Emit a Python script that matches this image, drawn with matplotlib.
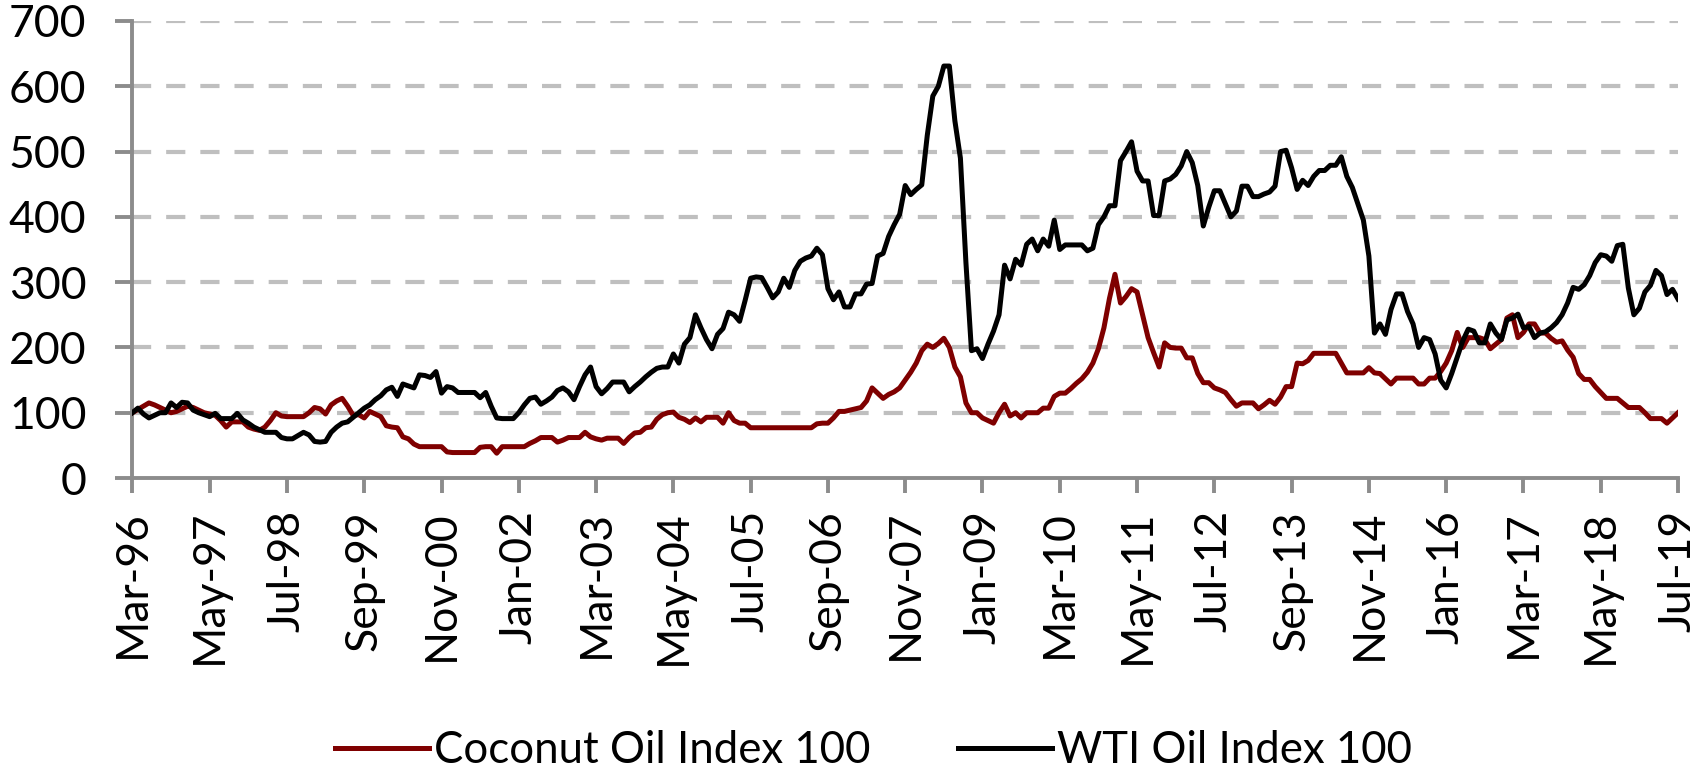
import matplotlib
matplotlib.use("Agg")
import matplotlib.pyplot as plt
from matplotlib.transforms import ScaledTranslation
import numpy as np
import pandas as pd

# monthly index values, Mar-96 = 100
months = pd.date_range("1996-03-01", "2019-07-01", freq="MS")

coconut = [
    100, 105, 110, 115, 112, 108, 104, 100, 102, 106,
    110, 108, 104, 100, 98, 96, 88, 78, 86, 86,
    86, 78, 75, 73, 78, 88, 100, 95, 94, 94,
    94, 94, 100, 108, 106, 98, 112, 118, 122, 110,
    96, 97,
    92, 102, 98, 94, 80, 78, 77, 63, 60, 52,
    48, 48, 48, 48, 48, 40, 39, 39, 39, 39,
    39, 47, 48, 48, 38, 48, 48, 48, 48, 48,
    53, 57, 62, 62, 62, 55, 58, 62, 62, 62,
    70, 63, 60,
    58, 61, 61, 61, 53, 62, 69, 70, 77, 78,
    90, 97, 100, 101, 93, 90, 85, 92, 86, 93,
    93, 93, 84, 100, 88, 84, 84, 77, 77, 77,
    77, 77, 77, 77, 77, 77, 77, 77, 77, 83,
    84, 84, 92, 102,
    102, 104, 106, 108, 118, 138, 130, 122, 128, 132,
    138, 150, 162, 176, 195, 205, 200, 206, 214, 200,
    170, 155, 115, 100, 100, 92, 88, 84, 100, 113,
    95, 100, 92, 100, 100, 100, 107, 107, 125, 130,
    130, 137, 145,
    152, 162, 176, 198, 230, 275, 312, 268, 278, 290,
    285, 250, 215, 192, 170, 207, 200, 199, 199, 184,
    184, 160, 146, 146, 138, 135, 131, 120, 110, 115,
    115, 115, 106, 112, 119, 113, 124, 140, 140, 176,
    175, 180, 191, 191, 191, 191, 191, 176, 161, 161,
    161, 161, 169, 161, 160, 152, 144, 153, 153, 153,
    153, 144, 144, 153, 153, 163, 176, 195, 223, 200,
    215, 215, 215, 212, 198, 205, 212, 245, 250, 215,
    223, 236, 236, 222,
    222, 214, 208, 210, 196, 185, 160, 151, 151, 140,
    131, 122, 122, 122, 115, 108, 108, 108, 100, 91,
    91, 91, 84, 92, 100,
]

wti = [
    100, 107, 98, 92, 96, 100, 100, 115, 108, 116,
    115, 104, 100, 97, 94, 99, 91, 91, 91, 99,
    89, 84, 78, 74, 70, 70, 70, 62, 60, 60,
    65, 70, 66, 56, 55, 56, 70, 78, 84, 86,
    93, 100,
    107, 112, 120, 126, 135, 139, 125, 144, 141, 138,
    158, 157, 154, 163, 130, 140, 138, 131, 131, 131,
    131, 123, 131, 110, 92, 91, 91, 91, 100, 112,
    122, 124, 113, 118, 124, 134, 138, 132, 120, 140,
    158, 170, 140,
    129, 137, 147, 147, 147, 132, 140, 147, 155, 162,
    168, 170, 170, 190, 176, 205, 215, 250, 230, 212,
    198, 220, 229, 254, 250, 240, 272, 306, 308, 307,
    292, 276, 285, 306, 292, 318, 332, 337, 340, 352,
    342, 290, 273, 285,
    262, 262, 282, 282, 297, 298, 340, 344, 370, 388,
    404, 448, 434, 442, 449, 525, 585, 600, 631, 631,
    547, 490, 330, 195, 198, 183, 205, 225, 250, 326,
    305, 335, 326, 358, 366, 348, 366, 355, 395, 350,
    357, 357, 357,
    357, 348, 352, 388, 400, 417, 417, 486, 500, 515,
    470, 455, 455, 402, 402, 455, 458, 465, 478, 500,
    483, 448, 386, 415, 440, 440, 420, 400, 409, 447,
    447, 431, 431, 435, 438, 447, 500, 502, 475, 442,
    456, 448, 462, 471, 471, 479, 479, 492, 462, 445,
    420, 395, 340, 222, 236, 220, 258, 282, 282, 255,
    236, 200, 215, 212, 190, 150, 138, 160, 185, 210,
    228, 225, 207, 207, 236, 222, 212, 242, 245, 251,
    230, 232, 215, 222,
    224, 230, 238, 250, 268, 292, 289, 296, 310, 330,
    342, 340, 332, 356, 358, 291, 250, 260, 285, 295,
    318, 310, 281, 289, 274,
]

tick_step = 14
x = np.arange(len(months))
tick_labels = months[::tick_step].strftime("%b-%y")

FS = 32
fig = plt.figure(figsize=(17.06, 7.69), dpi=100)
ax = fig.add_axes([0.0776, 0.3784, 0.9060, 0.5943])

grid_col = "#BFBFBF"
axis_col = "#8C8C8C"
for v in range(100, 701, 100):
    ax.axhline(v, color=grid_col, lw=3.0, dashes=(4.6, 3.6), zorder=0)

ax.plot(x, coconut, color="#7F0000", lw=3.6, label="Coconut Oil Index 100", zorder=3)
ax.plot(x, wti, color="black", lw=3.6, label="WTI Oil Index 100", zorder=3)

ax.set_xlim(0, len(months) - 1)
ax.set_ylim(0, 700)
ax.set_yticks(range(0, 701, 100))
ax.set_xticks(x[::tick_step])
ax.set_xticklabels(tick_labels, rotation=90, fontsize=FS, family="Lato")
shift = ScaledTranslation(0, -5 / 72, fig.dpi_scale_trans)
for lab in ax.get_yticklabels():
    lab.set_family("Lato")
    lab.set_fontsize(FS)
    lab.set_transform(lab.get_transform() + shift)

for s in ["top", "right"]:
    ax.spines[s].set_visible(False)
for s in ["left", "bottom"]:
    ax.spines[s].set_color(axis_col)
    ax.spines[s].set_linewidth(2.8)
ax.tick_params(axis="y", length=12, width=2.8, color=axis_col, pad=21)
ax.tick_params(axis="x", length=11, width=2.8, color=axis_col, pad=12)

fig.legend(loc="center", bbox_to_anchor=(0.512, 0.024), ncol=2, frameon=False,
           prop={"family": "Lato", "size": 31.5}, handlelength=2.15,
           handletextpad=0.12, columnspacing=2.0)

fig.savefig("out.png", dpi=100)
